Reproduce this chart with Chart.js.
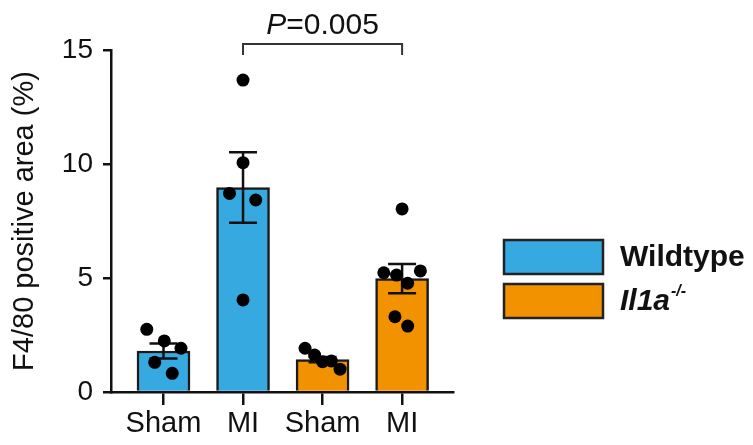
<!DOCTYPE html>
<html>
<head>
<meta charset="utf-8">
<script src="https://cdn.jsdelivr.net/npm/chart.js@4/dist/chart.umd.min.js"></script>
<style>
  html, body { margin: 0; padding: 0; background: #fff; }
  #wrap { width: 753px; height: 445px; position: relative; }
</style>
</head>
<body>
<div id="wrap"><canvas id="f480Chart"></canvas></div>
<script>
// --- Data ---
const categories = ['Sham', 'MI', 'Sham', 'MI'];
const groupNames = ['Wildtype', 'Il1a'];
const barGroup = [0, 0, 1, 1];
const barMeans = [1.8, 8.97, 1.42, 4.97];
const barSem = [0.33, 1.55, 0.12, 0.64];
const yTicks = [0, 5, 10, 15];

// individual animals (y) and their horizontal jitter (dx) per bar
const shamWtY = [2.75, 2.24, 1.92, 1.30, 0.82];
const shamWtDx = [-0.21, 0.01, 0.22, -0.11, 0.11];
const miWtY = [13.68, 10.06, 8.71, 8.42, 4.04];
const miWtDx = [0, 0, -0.17, 0.16, 0];
const shamKoY = [1.92, 1.62, 1.33, 1.36, 1.0];
const shamKoDx = [-0.22, -0.10, 0, 0.11, 0.22];
const miKoY = [8.03, 5.23, 5.31, 5.13, 4.77, 3.30, 2.89];
const miKoDx = [0, -0.23, 0.23, -0.07, 0.07, -0.09, 0.07];

const pValue = 'P=0.005';
const pPair = [1, 3];

const colors = ['#36A9E1', '#F39200'];
const FONT = "'Liberation Sans', Arial, Helvetica, sans-serif";

const pointSets = [[shamWtY, shamWtDx], [miWtY, miWtDx], [shamKoY, shamKoDx], [miKoY, miKoDx]];
const scatterData = [];
pointSets.forEach(([ys, dxs], i) => {
    ys.forEach((y, k) => scatterData.push({ x: i + dxs[k], y: y }));
});

// --- Error bars, drawn between bars and dots ---
const errorBars = {
    id: 'errorBars',
    afterDatasetDraw(chart, args) {
        if (args.index !== 0) return;
        const { ctx, scales: { x, y } } = chart;
        ctx.save();
        ctx.strokeStyle = '#111';
        ctx.lineWidth = 2.5;
        barMeans.forEach((m, i) => {
            const px = x.getPixelForValue(i);
            const top = y.getPixelForValue(m + barSem[i]);
            const bot = y.getPixelForValue(m - barSem[i]);
            ctx.beginPath();
            ctx.moveTo(px, top); ctx.lineTo(px, bot);
            ctx.moveTo(px - 14, top); ctx.lineTo(px + 14, top);
            ctx.moveTo(px - 14, bot); ctx.lineTo(px + 14, bot);
            ctx.stroke();
        });
        ctx.restore();
    }
};

// --- P value bracket + legend ---
const extras = {
    id: 'extras',
    afterDraw(chart) {
        const { ctx, scales: { x } } = chart;
        ctx.save();
        const x1 = x.getPixelForValue(pPair[0]);
        const x2 = x.getPixelForValue(pPair[1]);
        const yb = 44, yl = 55;
        ctx.strokeStyle = '#333';
        ctx.lineWidth = 2;
        ctx.beginPath();
        ctx.moveTo(x1, yl); ctx.lineTo(x1, yb); ctx.lineTo(x2, yb); ctx.lineTo(x2, yl);
        ctx.stroke();

        ctx.fillStyle = '#111';
        ctx.textBaseline = 'alphabetic';
        ctx.font = 'italic 30px ' + FONT;
        const pW = ctx.measureText('P').width;
        ctx.font = '30px ' + FONT;
        const restW = ctx.measureText(pValue.slice(1)).width;
        const sx = (x1 + x2) / 2 - (pW + restW) / 2;
        ctx.font = 'italic 30px ' + FONT;
        ctx.fillText('P', sx, 34);
        ctx.font = '30px ' + FONT;
        ctx.fillText(pValue.slice(1), sx + pW, 34);

        // legend
        const boxX = 504, boxW = 99, boxH = 34;
        const rows = [240, 284];
        rows.forEach((ry, i) => {
            ctx.fillStyle = colors[i];
            ctx.fillRect(boxX, ry, boxW, boxH);
            ctx.strokeStyle = '#222';
            ctx.lineWidth = 2.5;
            ctx.strokeRect(boxX, ry, boxW, boxH);
        });
        ctx.fillStyle = '#111';
        ctx.textBaseline = 'middle';
        ctx.font = 'bold 30px ' + FONT;
        ctx.fillText(groupNames[0], 620, rows[0] + boxH / 2 + 1);
        ctx.font = 'italic bold 30px ' + FONT;
        ctx.fillText(groupNames[1], 620, rows[1] + boxH / 2 + 1);
        const w = ctx.measureText(groupNames[1]).width;
        ctx.font = 'italic bold 16px ' + FONT;
        ctx.fillText('-/-', 620 + w + 1, rows[1] + boxH / 2 - 9);
        ctx.restore();
    }
};

new Chart(document.getElementById('f480Chart'), {
    data: {
        datasets: [
            {
                type: 'bar',
                data: barMeans.map((v, i) => ({ x: i, y: v })),
                backgroundColor: barGroup.map(g => colors[g]),
                borderColor: '#1a1a1a',
                borderWidth: 2.5,
                borderSkipped: 'bottom',
                barThickness: 53,
                order: 1
            },
            {
                type: 'scatter',
                data: scatterData,
                backgroundColor: '#000',
                borderWidth: 0,
                pointRadius: 6.5,
                order: 0
            }
        ]
    },
    options: {
        responsive: true,
        maintainAspectRatio: false,
        animation: false,
        layout: { padding: { top: 50, right: 300, bottom: 0, left: 0 } },
        plugins: { legend: { display: false }, tooltip: { enabled: false } },
        scales: {
            x: {
                type: 'linear',
                offset: false,
                min: -0.66,
                max: 3.64,
                afterBuildTicks: (s) => { s.ticks = categories.map((c, i) => ({ value: i })); },
                afterFit: (s) => { s.height = 53; },
                border: { color: '#111', width: 2.5 },
                grid: { offset: false, drawOnChartArea: false, color: '#111', lineWidth: 2.5, tickLength: 13 },
                ticks: {
                    color: '#111',
                    padding: 2,
                    maxRotation: 0,
                    autoSkip: false,
                    font: { family: FONT, size: 29 },
                    callback: (v) => categories[v]
                }
            },
            y: {
                min: 0,
                max: 15,
                afterBuildTicks: (s) => { s.ticks = yTicks.map(v => ({ value: v })); },
                afterFit: (s) => { s.width = 111; },
                border: { color: '#111', width: 2.5 },
                grid: { drawOnChartArea: false, color: '#111', lineWidth: 2.5, tickLength: 8 },
                ticks: {
                    color: '#111',
                    padding: 10,
                    font: { family: FONT, size: 28 }
                },
                title: {
                    display: true,
                    text: 'F4/80 positive area (%)',
                    color: '#111',
                    font: { family: FONT, size: 29 },
                    padding: { top: 8, bottom: 0 }
                }
            }
        }
    },
    plugins: [errorBars, extras]
});
</script>
</body>
</html>
